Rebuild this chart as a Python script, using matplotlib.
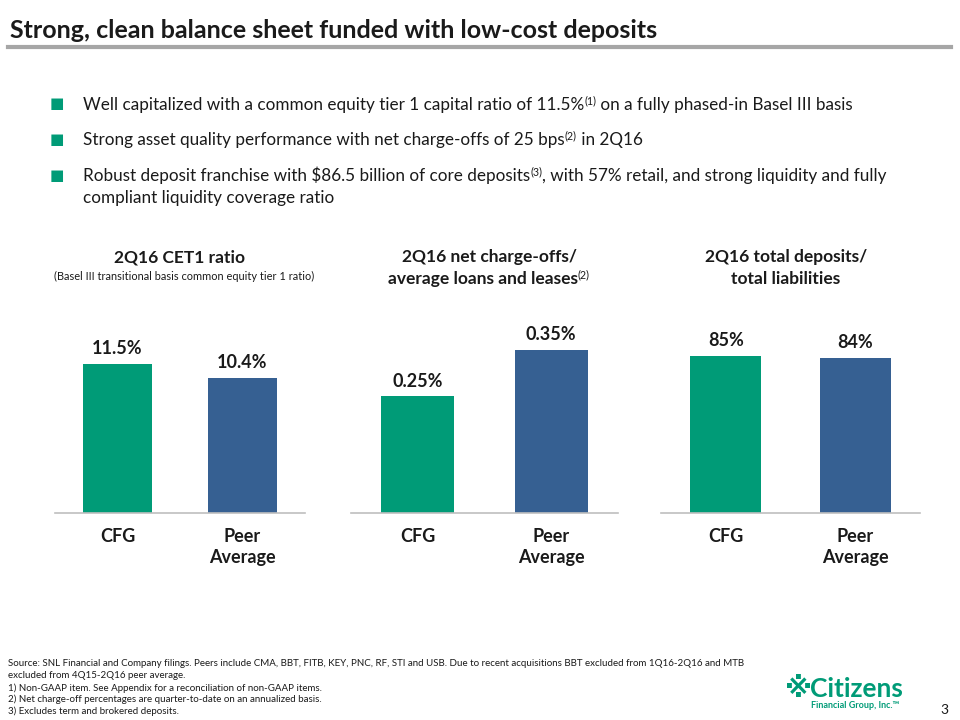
import matplotlib
matplotlib.use("Agg")
import matplotlib.pyplot as plt

plt.rcParams['font.family'] = ['Lato', 'DejaVu Sans']

# data
categories = ["CFG", "Peer\nAverage"]
cet1 = [11.5, 10.4]
nco = [0.25, 0.35]
deposits = [85, 84]

cet1_labels = ["11.5%", "10.4%"]
nco_labels = ["0.25%", "0.35%"]
dep_labels = ["85%", "84%"]

GREEN = "#009B77"
BLUE = "#366092"
DARK = "#1A1A1A"

W, H = 960, 720
fig = plt.figure(figsize=(W / 100, H / 100), dpi=100)
renderer = fig.canvas.get_renderer()


def fx(x):
    return x / W


def fy(y):
    return 1 - y / H


def rich(x, y, parts, size, weight="normal", ha="left"):
    # draw a line made of normal and superscript pieces, left to right
    texts = []
    for s, sup in parts:
        t = fig.text(0, 0, s, fontsize=size * (0.62 if sup else 1.0),
                     weight=weight if not sup else "normal", color=DARK, va="baseline")
        texts.append((t, sup))
    widths = [t.get_window_extent(renderer).width for t, _ in texts]
    total = sum(widths)
    cx = x if ha == "left" else x - total / 2
    for (t, sup), w in zip(texts, widths):
        yy = y - (size * 0.45 if sup else 0)
        t.set_position((fx(cx), fy(yy)))
        cx += w


# title and rule
fig.text(fx(10), fy(30), "Strong, clean balance sheet funded with low-cost deposits",
         fontsize=18, weight="bold", color=DARK, va="center")
fig.add_artist(plt.Line2D([fx(8), fx(951)], [fy(47), fy(47)], color="#A6A6A6", lw=3))

# bullets
bullet_y = [104, 139, 175]
for by in bullet_y:
    fig.text(fx(57), fy(by), "\u25A0", fontsize=11, color=GREEN, va="center", ha="center",
             family=["DejaVu Sans"])

rich(83, 110, [("Well capitalized with a common equity tier 1 capital ratio of 11.5%", False),
               ("(1)", True), (" on a fully phased-in Basel III basis", False)], 12.3)
rich(83, 145, [("Strong asset quality performance with net charge-offs of 25 bps", False),
               ("(2)", True), (" in 2Q16", False)], 12.3)
rich(83, 181, [("Robust deposit franchise with $86.5 billion of core deposits", False),
               ("(3)", True), (", with 57% retail, and strong liquidity and fully", False)], 12.3)
rich(83, 203, [("compliant liquidity coverage ratio", False)], 12.3)

# panel titles
fig.text(fx(180), fy(257), "2Q16 CET1 ratio", fontsize=12.5, weight="bold", color=DARK,
         ha="center", va="center")
fig.text(fx(184), fy(276), "(Basel III transitional basis common equity tier 1 ratio)",
         fontsize=7.9, color=DARK, ha="center", va="center")
fig.text(fx(489), fy(257), "2Q16 net charge-offs/", fontsize=12.5, weight="bold", color=DARK,
         ha="center", va="center")
rich(489, 284, [("average loans and leases", False), ("(2)", True)], 12.5, weight="bold",
     ha="center")
fig.text(fx(786), fy(257), "2Q16 total deposits/", fontsize=12.5, weight="bold", color=DARK,
         ha="center", va="center")
fig.text(fx(786), fy(279), "total liabilities", fontsize=12.5, weight="bold", color=DARK,
         ha="center", va="center")

# bar panels: (left px, width px, values, labels, ymax)
panels = [
    (55, 250, cet1, cet1_labels, 16.4),
    (351, 267, nco, nco_labels, 0.457),
    (661, 259, deposits, dep_labels, 115.3),
]
bottom_px, top_px = 513, 300
for left, width, vals, labels, ymax in panels:
    ax = fig.add_axes([fx(left), fy(bottom_px), width / W, (bottom_px - top_px) / H])
    ax.bar(range(len(vals)), vals, width=0.55, color=[GREEN, BLUE])
    ax.set_xlim(-0.5, 1.5)
    ax.set_ylim(0, ymax)
    for s in ["top", "right", "left"]:
        ax.spines[s].set_visible(False)
    ax.spines["bottom"].set_color("#BFBFBF")
    ax.spines["bottom"].set_linewidth(1.2)
    ax.set_yticks([])
    ax.set_xticks(range(len(vals)))
    ax.set_xticklabels(categories, fontsize=13, weight="bold", color=DARK, linespacing=1.25)
    ax.tick_params(axis="x", length=0, pad=11)
    for i, (v, lab) in enumerate(zip(vals, labels)):
        ax.annotate(lab, (i, v), xytext=(0, 5), textcoords="offset points",
                    ha="center", va="bottom", fontsize=13, weight="bold", color=DARK)

# footnotes
notes = [
    "Source: SNL Financial and Company filings. Peers include CMA, BBT, FITB, KEY, PNC, RF, STI and USB. Due to recent acquisitions BBT excluded from 1Q16-2Q16 and MTB",
    "excluded from 4Q15-2Q16 peer average.",
    "1) Non-GAAP item. See Appendix for a reconciliation of non-GAAP items.",
    "2) Net charge-off percentages are quarter-to-date on an annualized basis.",
    "3) Excludes term and brokered deposits.",
]
note_y = [664, 676, 688, 699, 711]
for s, ny in zip(notes, note_y):
    fig.text(fx(8), fy(ny), s, fontsize=7, color=DARK, va="center")

# logo
fig.text(fx(785), fy(689), "\u203B", fontsize=20, color=GREEN, weight="bold", ha="left",
         va="center", family=["DejaVu Sans"])
fig.text(fx(810), fy(689), "Citizens", fontsize=19, color=GREEN, weight="bold",
         ha="left", va="center")
fig.text(fx(899), fy(706), "Financial Group, Inc.\u2122", fontsize=6.5, color=GREEN,
         weight="bold", ha="right", va="center")
fig.text(fx(944), fy(710), "3", fontsize=10, color=DARK, ha="center", va="center")

fig.savefig("out.png", dpi=100)
